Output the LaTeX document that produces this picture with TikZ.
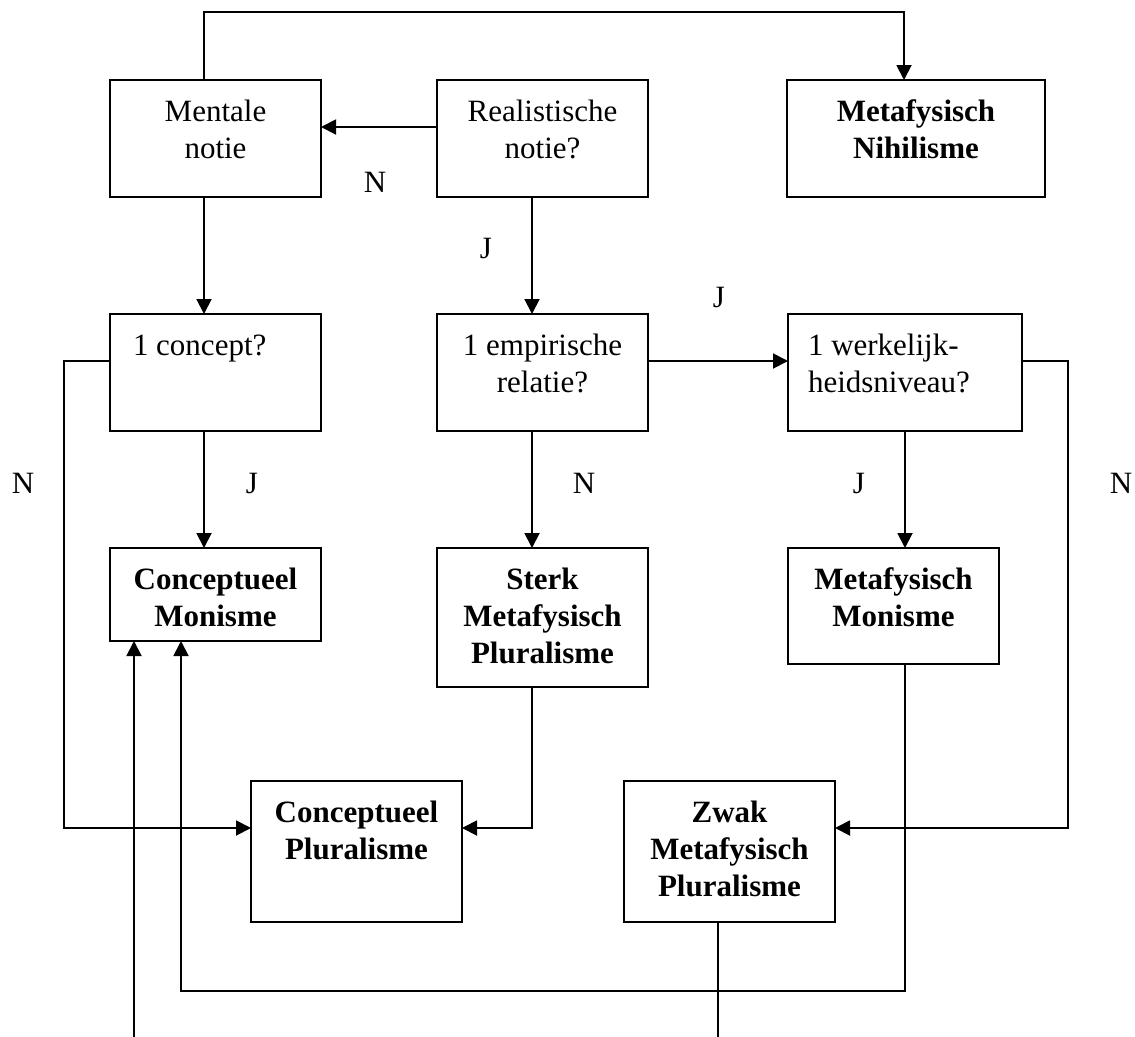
\documentclass[tikz,border=0pt]{standalone}
\usepackage{fontspec}
\setmainfont{Liberation Serif}
\usetikzlibrary{arrows.meta}
\newcommand{\boxtxt}[3]{\parbox[c][#2][t]{#1}{#3}}
\newcommand{\firstline}{\rule{0pt}{41bp}}
\begin{document}
\begin{tikzpicture}[x=1bp,y=-1bp,
  font=\fontsize{31bp}{37bp}\selectfont,
  box/.style={draw,line width=1.9bp,inner sep=0pt,outer sep=0pt,anchor=north west},
  conn/.style={line width=1.9bp},
  arr/.style={conn,-{Triangle[length=15bp,width=15bp]}},
  lbl/.style={inner sep=0pt}]
\useasboundingbox (0,0) rectangle (1135,1037);

% boxes
\node[box] (mental) at (110,80) {\boxtxt{211bp}{117bp}{\centering\firstline Mentale\\notie\par}};
\node[box] (real) at (437,80) {\boxtxt{211bp}{117bp}{\centering\firstline Realistische\\notie?\par}};
\node[box] (nihil) at (787,80) {\boxtxt{258bp}{117bp}{\centering\bfseries\firstline Metafysisch\\Nihilisme\par}};
\node[box] (concept) at (110,314) {\boxtxt{211bp}{117bp}{\raggedright\leftskip=23bp\firstline 1 concept?\par}};
\node[box] (emp) at (437,314) {\boxtxt{211bp}{117bp}{\centering\firstline 1 empirische\\relatie?\par}};
\node[box] (werk) at (788,314) {\boxtxt{234bp}{117bp}{\raggedright\leftskip=20bp\firstline 1 werkelijk-\\heidsniveau?\par}};
\node[box] (cmon) at (110,548) {\boxtxt{211bp}{93bp}{\centering\bfseries\firstline Conceptueel\\Monisme\par}};
\node[box] (sterk) at (437,548) {\boxtxt{211bp}{139bp}{\centering\bfseries\firstline Sterk\\Metafysisch\\Pluralisme\par}};
\node[box] (mmon) at (788,548) {\boxtxt{211bp}{116bp}{\centering\bfseries\firstline Metafysisch\\Monisme\par}};
\node[box] (cplu) at (251,781) {\boxtxt{211bp}{141bp}{\centering\bfseries\firstline Conceptueel\\Pluralisme\par}};
\node[box] (zwak) at (624,781) {\boxtxt{211bp}{141bp}{\centering\bfseries\firstline Zwak\\Metafysisch\\Pluralisme\par}};

% labels
\node[lbl] (lN1) at (375,182) {N};
\node[lbl] (lJ1) at (486,248) {J};
\node[lbl] (lJ2) at (719,297) {J};
\node[lbl] (lN2) at (23,483) {N};
\node[lbl] (lJ3) at (252,483) {J};
\node[lbl] (lN3) at (584,483) {N};
\node[lbl] (lJ4) at (859,483) {J};
\node[lbl] (lN4) at (1121,483) {N};

% helper coordinates
\coordinate (xa) at (204,12);
\coordinate (xb) at (904,12);
\coordinate (ya) at (0,127);
\coordinate (xc) at (532,0);
\coordinate (yb) at (0,361);
\coordinate (xr) at (1068,0);
\coordinate (yc) at (0,828);
\coordinate (xl) at (64,0);
\coordinate (xm) at (905,0);
\coordinate (yd) at (0,991);
\coordinate (xf) at (181,0);
\coordinate (zend) at (718,1037);
\coordinate (cstart) at (134,1037);

% connectors
\draw[arr] (mental.north -| xa) -- (xa) -- (xb) -- (nihil.north -| xb);
\draw[arr] (real.west |- ya) -- (mental.east |- ya);
\draw[arr] (mental.south -| xa) -- (concept.north -| xa);
\draw[arr] (real.south -| xc) -- (emp.north -| xc);
\draw[arr] (emp.east |- yb) -- (werk.west |- yb);
\draw[arr] (werk.east |- yb) -- (xr |- yb) -- (xr |- yc) -- (zwak.east |- yc);
\draw[arr] (concept.west |- yb) -- (xl |- yb) -- (xl |- yc) -- (cplu.west |- yc);
\draw[arr] (concept.south -| xa) -- (cmon.north -| xa);
\draw[arr] (emp.south -| xc) -- (sterk.north -| xc);
\draw[arr] (werk.south -| xm) -- (mmon.north -| xm);
\draw[arr] (sterk.south -| xc) -- (xc |- yc) -- (cplu.east |- yc);
\draw[arr] (mmon.south -| xm) -- (xm |- yd) -- (xf |- yd) -- (cmon.south -| xf);
\draw[conn] (zwak.south -| zend) -- (zend);
\draw[arr] (cstart) -- (cmon.south -| cstart);
\end{tikzpicture}
\end{document}
